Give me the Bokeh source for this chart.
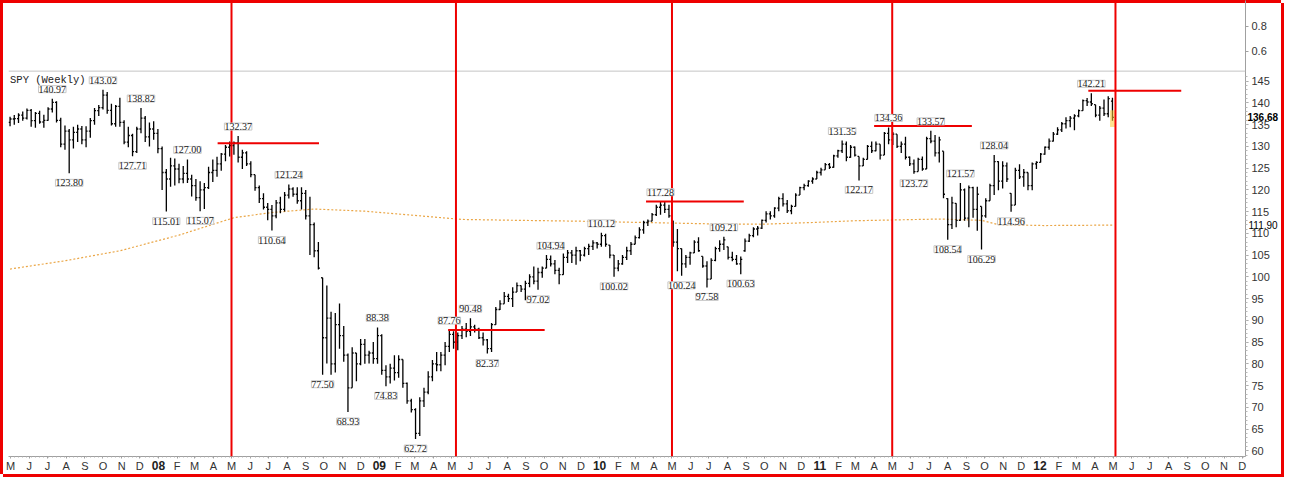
import pandas as pd
from bokeh.plotting import figure
from bokeh.models import ColumnDataSource, Range1d, FixedTicker, Span, LabelSet, Label, LinearAxis
from bokeh.embed import file_html
from bokeh.resources import INLINE

# ---------------- data ----------------
opens = [135.5,136.3,136.4,137.2,136.5,138.3,135.9,137.6,135.6,136.0,138.6,140.1,136.0,130.5,133.5,131.5,133.2,134.0,131.5,133.5,
135.9,138.2,138.9,141.8,138.3,135.2,139.2,135.5,131.0,132.5,128.8,134.0,136.5,132.2,134.0,133.0,129.5,124.0,122.5,125.5,
124.8,122.5,123.8,122.5,121.0,118.2,120.0,120.5,124.0,124.5,126.0,128.2,129.8,130.2,130.8,127.5,128.5,126.0,123.5,120.5,
118.0,116.0,115.5,114.0,117.0,115.5,118.8,120.2,119.0,117.5,119.2,114.0,112.0,106.0,99.8,86.0,90.5,80.0,89.0,86.5,
82.0,74.5,82.5,80.0,84.5,82.0,82.5,81.2,86.5,78.5,77.0,79.0,78.0,81.0,75.5,71.5,69.5,64.0,71.5,73.5,
77.0,80.0,79.8,82.0,84.0,86.8,85.0,86.5,88.0,87.5,88.5,88.0,86.0,85.5,83.5,89.0,92.5,93.8,95.5,95.0,
96.5,98.0,97.2,98.5,100.0,99.0,101.0,102.0,104.0,103.0,101.5,100.5,104.5,105.5,105.0,106.0,105.0,106.5,107.0,107.8,
107.5,109.5,107.3,105.0,102.0,103.0,104.5,106.0,107.5,109.0,110.8,112.5,112.8,114.3,116.0,116.5,115.5,112.9,108.0,106.5,
103.0,104.5,105.5,108.0,104.7,102.5,99.5,103.8,106.5,107.5,106.9,104.5,104.0,103.0,106.0,108.2,109.5,111.0,111.2,113.0,
114.5,114.0,115.8,118.0,116.8,115.2,116.2,118.8,120.5,121.0,122.0,122.5,124.0,124.6,125.8,125.2,127.8,129.0,130.5,127.5,
129.8,127.7,125.5,127.0,130.0,129.0,130.5,128.0,133.0,131.5,132.8,130.0,130.5,127.5,126.0,124.2,127.0,124.8,131.8,131.2,
128.5,128.9,118.0,112.0,116.9,113.0,120.0,113.5,120.5,115.5,116.2,114.0,117.5,121.0,126.5,122.0,125.5,119.2,116.5,124.5,
123.0,124.0,121.0,126.0,126.3,128.2,129.8,131.2,132.8,133.8,135.2,135.9,136.5,137.0,138.2,140.5,140.2,139.6,137.2,138.8,
137.5,140.4]
highs = [136.8,137.2,137.6,138.0,138.7,138.6,137.9,138.2,137.3,139.0,140.97,140.4,136.6,134.8,134.0,134.5,135.0,134.7,134.6,136.5,
138.8,139.5,143.02,142.5,139.8,139.5,141.2,136.0,134.5,132.9,134.5,138.82,137.0,135.5,135.8,134.0,130.0,124.8,127.4,127.2,
126.0,125.5,127.0,123.5,122.5,122.0,121.6,125.3,127.0,127.6,128.5,130.3,131.1,131.1,132.37,129.2,128.9,126.6,123.5,121.0,
119.2,117.0,116.5,117.7,118.4,119.5,121.24,120.6,120.6,120.6,120.0,118.4,112.5,108.0,99.8,98.0,92.0,91.7,93.9,88.7,
82.4,83.8,82.5,85.7,85.7,83.0,85.0,88.38,86.8,79.7,80.0,82.0,82.0,81.0,75.7,72.0,69.8,72.3,74.5,78.3,
80.9,82.7,82.7,85.0,87.76,87.5,87.2,88.7,89.4,90.48,89.0,88.3,87.2,85.7,89.4,93.1,94.6,96.5,96.1,97.6,
98.7,98.0,99.1,100.6,102.4,102.1,102.4,105.0,104.94,103.9,102.1,105.4,106.2,106.2,106.9,106.2,106.9,107.6,108.4,108.0,
110.12,109.9,107.3,105.0,103.9,105.0,106.9,108.0,109.5,111.4,112.9,113.2,114.7,116.6,117.28,117.3,116.6,112.9,111.0,106.5,
105.0,105.8,108.4,109.1,104.7,103.6,104.3,106.9,108.4,109.21,106.9,105.8,105.0,104.7,108.8,109.9,111.4,111.7,113.2,115.1,
115.1,116.0,118.4,119.2,117.7,116.6,119.2,120.7,121.4,122.2,122.9,124.4,125.1,126.2,126.2,128.1,129.2,131.35,131.1,130.3,
130.0,127.7,127.4,130.3,131.1,131.1,130.5,133.3,134.36,133.3,132.8,131.1,132.2,127.7,127.0,127.4,127.7,132.2,133.57,132.6,
132.2,128.9,118.1,118.4,116.9,121.57,120.3,121.0,120.7,120.7,116.2,118.1,121.4,128.04,126.6,126.6,126.3,119.2,125.1,125.9,
124.8,124.0,126.3,126.6,128.5,130.0,131.8,133.3,134.4,135.6,136.7,137.0,137.4,138.5,140.8,141.1,142.21,139.6,139.3,140.8,
141.5,141.2]
lows = [134.6,135.0,135.4,135.9,136.2,134.5,134.3,135.2,134.3,135.9,137.8,135.5,129.8,129.2,123.8,129.5,131.0,130.5,129.8,132.0,
135.0,137.0,138.5,137.5,134.8,134.5,134.5,130.5,129.8,127.71,128.5,133.0,131.0,130.0,131.5,128.4,120.0,115.01,120.7,121.0,
121.5,121.5,121.6,118.5,117.5,115.07,115.6,120.2,121.8,123.0,124.4,126.6,127.7,128.1,126.3,124.8,125.5,122.9,119.8,117.0,
115.5,113.0,110.64,113.5,114.6,115.0,118.0,118.4,116.8,115.5,113.2,105.0,104.5,101.7,77.5,80.1,77.5,78.0,83.5,80.5,
68.93,74.5,76.0,79.7,80.0,80.1,80.0,80.0,77.5,74.83,75.5,76.2,76.8,74.5,70.8,68.8,62.72,63.4,70.1,73.0,
76.0,78.3,78.3,79.7,82.7,83.5,83.1,85.7,86.1,86.4,87.2,85.7,84.2,82.37,82.7,89.0,92.4,93.8,94.2,93.1,
96.5,96.5,94.6,97.6,98.3,97.02,99.8,102.0,102.4,100.6,98.3,100.5,103.2,103.2,102.8,103.6,104.7,105.0,106.2,106.5,
106.9,106.9,104.3,100.02,101.3,102.8,103.9,105.0,107.5,108.8,109.9,111.7,112.8,114.0,114.3,114.7,113.6,106.9,101.3,100.24,
102.1,102.8,105.5,105.8,102.1,97.58,99.5,103.6,105.8,106.2,104.0,103.6,102.8,100.63,105.8,108.0,109.1,109.5,111.0,112.5,
113.2,113.6,115.1,116.2,114.7,114.4,116.2,118.8,119.9,120.7,121.4,122.5,123.3,124.6,124.8,125.1,127.4,128.5,126.6,127.4,
127.7,122.17,125.5,127.0,128.5,128.9,127.0,128.0,130.5,130.3,129.6,128.5,127.0,125.5,123.72,124.2,124.4,124.8,130.7,127.7,
126.3,118.1,108.54,111.0,111.4,112.9,112.9,111.4,113.6,110.6,106.29,113.6,117.5,118.8,119.9,120.3,121.8,114.96,116.5,122.5,
120.7,119.9,119.9,124.8,126.3,128.1,129.2,131.1,132.6,133.3,134.1,134.4,133.7,136.7,138.2,139.3,139.3,136.7,135.9,137.0,
136.7,135.9]
closes = [136.3,136.4,137.2,136.5,138.3,135.9,137.6,135.6,136.0,138.6,140.1,136.0,130.5,133.5,131.5,133.2,134.0,131.5,133.5,135.9,
138.2,138.9,141.8,138.3,135.2,139.2,135.5,131.0,132.5,128.8,134.0,136.5,132.2,134.0,133.0,129.5,124.0,122.5,125.5,124.8,
122.5,123.8,122.5,121.0,118.2,120.0,120.5,124.0,124.5,126.0,128.2,129.8,130.2,130.8,127.5,128.5,126.0,123.5,120.5,118.0,
116.0,115.5,114.0,117.0,115.5,118.8,120.2,119.0,117.5,119.2,114.0,112.0,106.0,102.0,86.0,90.5,80.0,89.0,86.5,82.0,
74.5,82.5,80.0,84.5,82.0,82.5,81.2,86.5,78.5,77.0,79.0,78.0,81.0,75.5,71.5,69.5,64.0,71.5,73.5,77.0,
80.0,79.8,82.0,84.0,86.8,85.0,86.5,88.0,87.5,88.5,88.0,86.0,85.5,83.5,89.0,92.5,93.8,95.5,95.0,96.5,
98.0,97.2,98.5,100.0,99.0,101.0,102.0,104.0,103.0,101.5,100.5,104.5,105.5,105.0,106.0,105.0,106.5,107.0,107.8,107.5,
109.5,107.5,105.0,102.0,103.0,104.5,106.0,107.5,109.0,110.8,112.5,112.8,114.3,116.0,116.5,115.5,114.0,108.0,106.5,103.0,
104.5,105.5,108.0,106.0,102.5,99.5,103.8,106.5,107.5,108.5,104.5,104.0,103.0,104.0,108.2,109.5,111.0,111.2,113.0,114.5,
114.0,115.8,118.0,116.8,115.2,116.2,118.8,120.5,121.0,122.0,122.5,124.0,124.6,125.8,125.2,127.8,129.0,130.5,127.5,129.8,
128.0,125.5,127.0,130.0,129.0,130.5,128.0,133.0,131.5,132.8,130.0,130.5,127.5,126.0,124.2,127.0,124.8,131.8,131.2,128.5,
131.5,119.0,112.0,117.0,113.0,120.0,113.5,120.5,115.5,119.0,114.0,117.5,121.0,126.5,122.0,125.5,122.5,116.5,124.5,123.0,
124.0,121.0,126.0,126.3,128.2,129.8,131.2,132.8,133.8,135.2,135.9,136.5,137.0,138.2,140.5,140.2,139.8,137.2,138.8,137.5,
141.0,136.68]

# moving average read at sampled weeks
ma_weeks = [0, 13, 26, 40, 53, 62, 72, 84, 95, 107, 120, 135, 150, 165, 178, 190, 200, 210, 220, 230, 234, 245, 261]
ma_values = [101.8, 103.7, 106.0, 109.6, 113.6, 114.8, 115.6, 115.1, 114.2, 113.2, 113.0, 112.8, 112.5, 112.2, 112.1,
             112.5, 112.9, 113.1, 113.3, 113.0, 112.0, 111.8, 111.9]

# weeks that carry a price tag
high_tags = [10, 22, 31, 42, 54, 66, 87, 104, 109, 128, 140, 154, 169, 197, 208, 218, 225, 233, 256]
low_tags = [14, 29, 37, 45, 62, 74, 80, 89, 96, 113, 125, 143, 159, 165, 173, 201, 214, 222, 230, 237]

# annotations drawn on the chart
sell_in_may = ["2008-05-01", "2009-05-08", "2010-05-01", "2011-05-01", "2012-05-05"]
resist_start = ["2008-04-08", "2009-04-25", "2010-03-19", "2011-04-01", "2012-03-21"]
resist_end = ["2008-09-23", "2009-10-02", "2010-08-28", "2011-09-10", "2012-08-22"]
resist_level = [130.7, 87.8, 117.3, 134.7, 142.8]

price_ticks = list(range(60, 146, 5))
upper_ticks = [151.87, 157.59]
upper_labels = ["0.6", "0.8"]
pane_divider = 147.3
month_letters = ["J", "F", "M", "A", "M", "J", "J", "A", "S", "O", "N", "D"]

# ---------------- chart ----------------
RED = "#ee0000"

def ms(t):
    return int(pd.Timestamp(t).value // 10**6)

week_dates = pd.date_range("2007-04-30", periods=len(closes), freq="7D")
tick_dx = pd.Timedelta(days=2.5)

src = ColumnDataSource(dict(x=week_dates, xo=week_dates - tick_dx, xc=week_dates + tick_dx,
                            o=opens, h=highs, l=lows, c=closes))

p = figure(width=1281, height=474, x_axis_type="datetime", y_axis_location="right",
           output_backend="svg", toolbar_location=None, title=None,
           x_range=Range1d(ms("2007-04-27 10:00"), ms("2012-12-06 12:00")),
           y_range=Range1d(58.7, 163.54),
           min_border_left=8, min_border_right=34, min_border_top=0, min_border_bottom=0)
p.xgrid.visible = False
p.ygrid.visible = False
p.outline_line_color = None
p.background_fill_color = None
p.border_fill_color = None
p.styles = {"box-shadow": "inset 3px 3px 0 0 %s, 3px 3px 0 0 %s" % (RED, RED)}

# moving average
p.line(x=[week_dates[i] for i in ma_weeks], y=ma_values, line_color="#eaa646",
       line_dash="2 2", line_width=1.2)

# OHLC bars
p.segment("x", "l", "x", "h", source=src, line_color="black", line_width=1.3)
p.segment("xo", "o", "x", "o", source=src, line_color="black", line_width=1.3)
p.segment("x", "c", "xc", "c", source=src, line_color="black", line_width=1.3)

# highlight of last bar
last = week_dates[-1]
p.quad(left=[last - pd.Timedelta(days=4)], right=[last + pd.Timedelta(days=4)],
       bottom=[closes[-1] - 2.2], top=[closes[-1] + 1.6],
       fill_color="#ffcc33", fill_alpha=0.55, line_color=None)

# pane divider
p.add_layout(Span(location=pane_divider, dimension="width", line_color="#c4c4c4", line_width=1))

# red annotations
for d in sell_in_may:
    p.add_layout(Span(location=ms(d), dimension="height", line_color=RED, line_width=2))
p.segment(x0=[pd.Timestamp(d) for d in resist_start], y0=resist_level,
          x1=[pd.Timestamp(d) for d in resist_end], y1=resist_level,
          line_color=RED, line_width=2)

# price tags
hsrc = ColumnDataSource(dict(x=[week_dates[i] for i in high_tags], y=[highs[i] for i in high_tags],
                             t=["%.2f" % highs[i] for i in high_tags]))
lsrc = ColumnDataSource(dict(x=[week_dates[i] for i in low_tags], y=[lows[i] for i in low_tags],
                             t=["%.2f" % lows[i] for i in low_tags]))
tag_style = dict(text_font="Liberation Sans", text_font_size="10px", text_color="#222222",
                 text_align="center", border_line_color="#c8c8c8", background_fill_color="white")
p.add_layout(LabelSet(x="x", y="y", text="t", source=hsrc, y_offset=6, text_baseline="bottom", **tag_style))
p.add_layout(LabelSet(x="x", y="y", text="t", source=lsrc, y_offset=-6, text_baseline="top", **tag_style))

p.add_layout(Label(x=week_dates[0], y=145.3, text="SPY (Weekly)", text_font="Liberation Mono",
                   text_font_size="10.5px", text_color="#222222", text_baseline="middle"))

# x axis: months
months = pd.date_range("2007-05-01", "2012-12-01", freq="MS")
xax = p.xaxis[0]
xax.ticker = FixedTicker(ticks=[ms(m) for m in months],
                         minor_ticks=[ms(w) for w in pd.date_range("2007-04-30", "2012-12-31", freq="7D")])
xax.major_label_overrides = {ms(m): ("" if m.month == 1 else month_letters[m.month - 1]) for m in months}
xax.major_label_text_font = "Liberation Sans"
xax.major_label_text_font_size = "11px"
xax.major_label_text_color = "#333333"
xax.axis_line_color = "#a0a0a0"
xax.major_tick_line_color = "#a0a0a0"
xax.minor_tick_line_color = "#b0b0b0"
xax.major_tick_in = 0
xax.major_tick_out = 2
xax.minor_tick_in = 0
xax.minor_tick_out = 1
xax.major_label_standoff = 1

# x axis: bold year labels, pulled up into the month row
years = [m for m in months if m.month == 1]
yr_ax = LinearAxis(ticker=FixedTicker(ticks=[ms(m) for m in years]),
                   major_label_overrides={ms(m): m.strftime("%y") for m in years},
                   axis_line_color=None, major_tick_line_color=None, minor_tick_line_color=None,
                   major_tick_in=0, major_tick_out=0, major_label_standoff=-14,
                   major_label_text_font="Liberation Sans", major_label_text_font_size="12px",
                   major_label_text_font_style="bold", major_label_text_color="#222222")
p.add_layout(yr_ax, "below")

# y axis (right)
yax = p.yaxis[0]
yax.ticker = FixedTicker(ticks=price_ticks + upper_ticks, minor_ticks=list(range(59, 147)))
ov = {float(t): str(t) for t in price_ticks}
ov.update({t: s for t, s in zip(upper_ticks, upper_labels)})
yax.major_label_overrides = ov
yax.major_label_text_font = "Liberation Sans"
yax.major_label_text_font_size = "11px"
yax.major_label_text_color = "#333333"
yax.axis_line_color = "#a0a0a0"
yax.major_tick_line_color = "#a0a0a0"
yax.minor_tick_line_color = "#b8b8b8"
yax.major_tick_in = 0
yax.major_tick_out = 3
yax.minor_tick_in = 0
yax.minor_tick_out = 2
yax.major_label_standoff = 3

# value tags on the right axis (last close, last moving-average value)
last_ax = LinearAxis(ticker=FixedTicker(ticks=[closes[-1]]),
                     major_label_overrides={closes[-1]: "%.2f" % closes[-1]},
                     axis_line_color=None, major_tick_line_color=None, minor_tick_line_color=None,
                     major_tick_in=0, major_tick_out=0, major_label_standoff=-25,
                     major_label_text_font="Liberation Sans", major_label_text_font_size="10px",
                     major_label_text_font_style="bold", major_label_text_color="black")
p.add_layout(last_ax, "right")
ma_ax = LinearAxis(ticker=FixedTicker(ticks=[ma_values[-1]]),
                   major_label_overrides={ma_values[-1]: "%.2f" % ma_values[-1]},
                   axis_line_color=None, major_tick_line_color=None, minor_tick_line_color=None,
                   major_tick_in=0, major_tick_out=0, major_label_standoff=-33,
                   major_label_text_font="Liberation Sans", major_label_text_font_size="10px",
                   major_label_text_color="black")
p.add_layout(ma_ax, "right")

open("out.html", "w").write(file_html(p, INLINE))
